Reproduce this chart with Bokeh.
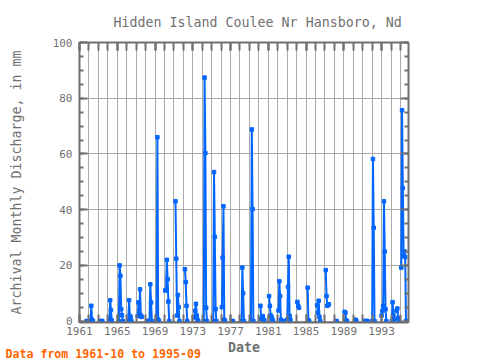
import math
from bokeh.plotting import figure
from bokeh.models import FixedTicker, LinearAxis, Title, Range1d
from bokeh.embed import file_html
from bokeh.resources import INLINE

# ---- data (monthly discharge in mm; gaps between runs are missing months) ----
obs_month = [
    "1961-10", "1961-11",
    "1962-03", "1962-04", "1962-05", "1962-06",
    "1963-03", "1963-04", "1963-05", "1963-06",
    "1964-03", "1964-04", "1964-05", "1964-06",
    "1965-03", "1965-04", "1965-05", "1965-06", "1965-07", "1965-08",
    "1966-03", "1966-04", "1966-05", "1966-06", "1966-07",
    "1967-03", "1967-04", "1967-05", "1967-06", "1967-07", "1967-08",
    "1968-03", "1968-04", "1968-05", "1968-06", "1968-07", "1968-08", "1968-09",
    "1969-03", "1969-04", "1969-05", "1969-06",
    "1970-02", "1970-03", "1970-04", "1970-05", "1970-06", "1970-07",
    "1971-03", "1971-04", "1971-05", "1971-06", "1971-07", "1971-08",
    "1972-03", "1972-04", "1972-05", "1972-06",
    "1973-03", "1973-04", "1973-05", "1973-06", "1973-07", "1973-08",
    "1974-03", "1974-04", "1974-05", "1974-06", "1974-07",
    "1975-03", "1975-04", "1975-05", "1975-06", "1975-07",
    "1976-02", "1976-03", "1976-04", "1976-05", "1976-06",
    "1977-03", "1977-04",
    "1978-03", "1978-04", "1978-05", "1978-06",
    "1979-03", "1979-04", "1979-05", "1979-06",
    "1980-03", "1980-04", "1980-05", "1980-06", "1980-07", "1980-08",
    "1981-02", "1981-03", "1981-04", "1981-05", "1981-06", "1981-07",
    "1982-02", "1982-03", "1982-04", "1982-05", "1982-06",
    "1982-10", "1982-11", "1982-12", "1983-01", "1983-02", "1983-03", "1983-04", "1983-05",
    "1984-02", "1984-03", "1984-04",
    "1985-03", "1985-04", "1985-05",
    "1986-03", "1986-04", "1986-05", "1986-06", "1986-07",
    "1987-02", "1987-03", "1987-04", "1987-05", "1987-06",
    "1988-03", "1988-04",
    "1989-02", "1989-03", "1989-04", "1989-05",
    "1990-03", "1990-04", "1990-05",
    "1991-03", "1991-04", "1991-05", "1991-06", "1991-07",
    "1992-01", "1992-02", "1992-03", "1992-04",
    "1993-01", "1993-02", "1993-03", "1993-04", "1993-05", "1993-06", "1993-07",
    "1994-02", "1994-03", "1994-04", "1994-05",
    "1994-08", "1994-09", "1994-10", "1994-11",
    "1995-02", "1995-03", "1995-04", "1995-05", "1995-06", "1995-07", "1995-08", "1995-09",
]
discharge = [
    0, 0,
    0, 5.5, 0.5, 0,
    0, 0, 0, 0,
    0.5, 7.5, 4.0, 0.2,
    0, 20.0, 16.3, 4.3, 2.1, 0,
    0, 7.5, 1.8, 1.5, 0,
    1.8, 6.7, 2.5, 11.4, 2.0, 1.5,
    0, 0, 0, 0, 13.2, 6.7, 0,
    0, 66.0, 0.6, 0,
    11.0, 11.2, 22.0, 15.0, 7.0, 0,
    43.0, 22.4, 2.0, 9.4, 5.0, 0,
    18.6, 14.0, 5.5, 0,
    1.3, 3.7, 6.2, 2.0, 0.5, 0,
    0, 87.4, 60.3, 4.8, 0,
    0, 53.5, 30.2, 4.3, 0,
    5.0, 22.8, 41.2, 0.5, 0,
    0, 0,
    0, 19.2, 10.0, 0,
    0, 68.8, 40.2, 0,
    5.5, 0.8, 1.2, 1.8, 0.5, 0.2,
    9.0, 5.5, 2.0, 1.5, 0.7, 0,
    3.8, 14.3, 9.0, 0.5, 0,
    0, 0, 0, 0.5, 12.3, 23.1, 1.9, 0.5,
    6.9, 5.5, 4.8,
    12.0, 0.3, 0,
    5.7, 3.0, 7.3, 1.5, 0,
    18.3, 9.0, 5.5, 6.0, 6.0,
    0, 0,
    3.3, 3.0, 0.2, 0,
    0, 0.5, 0,
    0, 0, 0, 0, 0,
    0, 58.2, 33.5, 0,
    2.0, 3.7, 5.5, 43.0, 25.0, 4.3, 0,
    0, 6.8, 2.0, 0.5,
    3.7, 4.5, 1.0, 0,
    19.2, 75.7, 47.7, 23.3, 25.0, 23.0, 0, 0,
]
x_tick_years = [1961, 1965, 1969, 1973, 1977, 1981, 1985, 1989, 1993]
grid_years = list(range(1961, 1996))
y_ticks = [0, 20, 40, 60, 80, 100]
y_minor = list(range(0, 101, 5))

title_text = "Hidden Island Coulee Nr Hansboro, Nd"
y_label_text = "Archival Monthly Discharge, in mm"
x_label_text = "Date"
footer_text = "Data from 1961-10 to 1995-09"

# ---- build series with NaN breaks between non-consecutive months ----
xs, ys = [], []
prev = None
for m, v in zip(obs_month, discharge):
    yr, mo = int(m[:4]), int(m[5:7])
    idx = yr * 12 + mo - 1
    if prev is not None and idx != prev + 1:
        xs.append(float("nan"))
        ys.append(float("nan"))
    xs.append(yr + (mo - 1) / 12.0)
    ys.append(v)
    prev = idx
px = [x for x, y in zip(xs, ys) if not math.isnan(y)]
py = [y for y in ys if not math.isnan(y)]

X0, X1 = 1961.0, 1995.85
Y0, Y1 = -0.5, 100.0
W, H = 472, 360
FL, FR, FT, FB = 79, 408, 42, 322  # frame edges in canvas px

GRAY = "#707070"
FONT = "DejaVu Sans Mono"

p = figure(width=W, height=H, output_backend="svg", toolbar_location=None,
           x_range=Range1d(X0, X1), y_range=Range1d(Y0, Y1),
           min_border_left=FL, min_border_right=W - FR,
           min_border_top=FT, min_border_bottom=H - FB,
           background_fill_color="white", border_fill_color="white")
p.outline_line_color = None

p.title = Title(text=title_text, align="left", offset=34, standoff=24,
                vertical_align="middle",
                text_font=FONT, text_font_size="13.3px", text_font_style="normal",
                text_color=GRAY)

xt = FixedTicker(ticks=x_tick_years, minor_ticks=grid_years)
yt = FixedTicker(ticks=y_ticks, minor_ticks=y_minor)


def style_axis(ax, major_in, minor_in, labels=True):
    ax.axis_line_color = GRAY
    ax.axis_line_width = 2
    ax.major_tick_line_color = GRAY
    ax.major_tick_line_width = 2
    ax.minor_tick_line_color = GRAY
    ax.minor_tick_line_width = 2
    ax.major_tick_in = major_in
    ax.major_tick_out = 0
    ax.minor_tick_in = minor_in
    ax.minor_tick_out = 0
    ax.major_label_text_font = FONT
    ax.major_label_text_font_size = "11px"
    ax.major_label_text_color = GRAY if labels else None


p.xaxis.ticker = xt
p.yaxis.ticker = yt
style_axis(p.xaxis[0], 8, 8)
style_axis(p.yaxis[0], 8, 4)
p.xaxis.major_label_standoff = 4
p.yaxis.major_label_standoff = 7

p.xaxis.axis_label = x_label_text
p.xaxis.axis_label_standoff = 2
p.xaxis.axis_label_text_font = FONT
p.xaxis.axis_label_text_font_size = "13.3px"
p.xaxis.axis_label_text_font_style = "bold"
p.xaxis.axis_label_text_color = GRAY

p.yaxis.axis_label = y_label_text
p.yaxis.axis_label_standoff = 26
p.yaxis.axis_label_text_font = FONT
p.yaxis.axis_label_text_font_size = "13.3px"
p.yaxis.axis_label_text_font_style = "normal"
p.yaxis.axis_label_text_color = GRAY

top = LinearAxis(ticker=FixedTicker(ticks=x_tick_years, minor_ticks=grid_years))
style_axis(top, 8, 8, labels=False)
top.major_label_text_font_size = "0px"
top.major_label_standoff = 0
p.add_layout(top, "above")
right = LinearAxis(ticker=FixedTicker(ticks=y_ticks, minor_ticks=y_minor))
style_axis(right, 8, 4, labels=False)
right.major_label_text_font_size = "0px"
right.major_label_standoff = 0
p.add_layout(right, "right")

p.add_layout(Title(text=footer_text, align="left", offset=-74, standoff=-21,
                   vertical_align="top",
                   text_font=FONT, text_font_size="11.6px", text_font_style="bold",
                   text_color="#ff6600"), "below")

p.xgrid.ticker = FixedTicker(ticks=grid_years)
p.ygrid.ticker = FixedTicker(ticks=y_ticks)
p.xgrid.grid_line_color = "#ababab"
p.ygrid.grid_line_color = "#ababab"
p.xgrid.grid_line_width = 1
p.ygrid.grid_line_width = 1

BLUE = "#0066ff"
p.line(xs, ys, line_color=BLUE, line_width=2)
p.scatter(px, py, marker="square", size=3.5, color=BLUE)

open("out.html", "w").write(file_html(p, INLINE))
